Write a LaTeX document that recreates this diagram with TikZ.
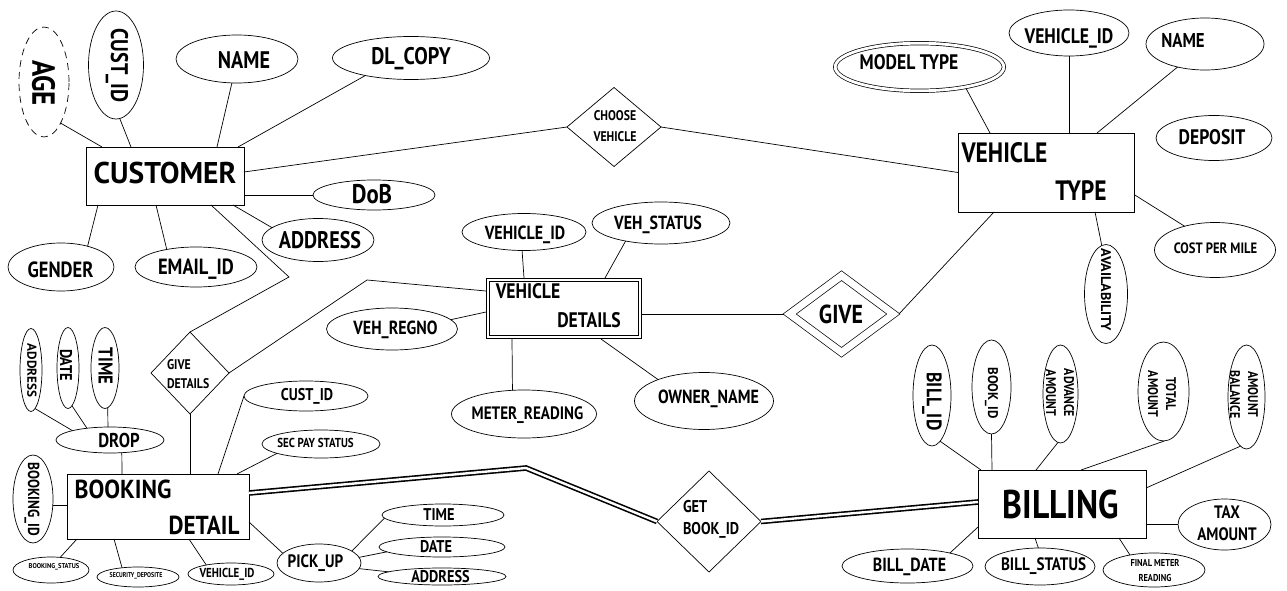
\documentclass[tikz,border=0pt]{standalone}
\usepackage{fontspec}
\usepackage{graphicx}
\setmainfont[FakeStretch=0.84]{PT Sans}
\usetikzlibrary{shapes.geometric,calc}
\newcommand{\fsz}[1]{\fontsize{#1}{#1}\selectfont\bfseries}
\newcommand{\fszl}[2]{\fontsize{#1}{#2}\selectfont\bfseries}
\begin{document}
\begin{tikzpicture}[x=1pt,y=-1pt,
  every node/.style={inner sep=0pt, outer sep=0pt},
  ent/.style={draw, rectangle, line width=0.8pt},
  dent/.style={draw, rectangle, line width=0.8pt, double, double distance=2.6pt, outer sep=2.1pt},
  attr/.style={draw, ellipse, line width=0.7pt},
  rel/.style={draw, diamond, line width=0.7pt},
  conn/.style={line width=0.7pt},
  dconn/.style={line width=1.6pt, double, double distance=2.4pt},
  txt/.style={inner sep=0pt, outer sep=0pt, text=black}
]
\fill[white] (0,0) rectangle (1287,591);
\useasboundingbox (0,0) rectangle (1287,591);

% ---------- entities ----------
\node[ent, minimum width=158, minimum height=58] (cust) at (165,176) {};
\node[txt, font=\fsz{30}] (t-cust) at (165,173) {\scalebox{1.17}[1]{CUSTOMER}};
\node[ent, minimum width=176, minimum height=79] (vt) at (1046,172.5) {};
\node[txt, font=\fsz{28}] (t-vt1) at (1004.5,153) {VEHICLE};
\node[txt, font=\fsz{28}] (t-vt2) at (1081,191) {TYPE};
\node[dent, minimum width=151.8, minimum height=56.8] (vd) at (564,308.5) {};
\node[txt, font=\fsz{21}] (t-vd1) at (528,291.5) {VEHICLE};
\node[txt, font=\fsz{21}] (t-vd2) at (589,320.5) {DETAILS};
\node[ent, minimum width=182, minimum height=65] (bd) at (158,506.5) {};
\node[txt, font=\fsz{26}] (t-bd1) at (123,489) {\scalebox{1.08}[1]{BOOKING}};
\node[txt, font=\fsz{26}] (t-bd2) at (204,525.5) {\scalebox{1.06}[1]{DETAIL}};
\node[ent, minimum width=168, minimum height=68] (bill) at (1062,504) {};
\node[txt, font=\fsz{40}] (t-bill) at (1061,504) {BILLING};

% ---------- relationships ----------
\node[rel, minimum width=94, minimum height=79] (choose) at (614,127) {};
\node[txt, font=\fszl{14}{21}, align=center] (t-choose) at (615,126) {CHOOSE\\VEHICLE};
\node[rel, minimum width=78, minimum height=82] (gd) at (190,373) {};
\node[txt, font=\fszl{14}{19}, align=left, anchor=west] (t-gd) at (167,374.5) {GIVE\\DETAILS};
\node[rel, double, double distance=7pt, outer sep=4pt, minimum width=107, minimum height=80] (give) at (841.5,314) {};
\node[txt, font=\fsz{26}] (t-give) at (841,314) {GIVE};
\node[rel, minimum width=104, minimum height=101] (get) at (709,521.5) {};
\node[txt, font=\fszl{17}{22}, align=left, anchor=west] (t-get) at (683,519) {GET\\BOOK\_ID};

% ---------- customer attributes ----------
\node[attr, dash pattern=on 7pt off 5pt, minimum width=50, minimum height=110] (age) at (44,82) {};
\node[txt, font=\fsz{32}, rotate=-90] (t-age) at (43.5,83) {AGE};
\node[attr, minimum width=55, minimum height=108] (cid) at (116,65) {};
\node[txt, font=\fsz{24}, rotate=-90] (t-cid) at (117,65.5) {CUST\_ID};
\node[attr, minimum width=122, minimum height=48] (cname) at (237,59) {};
\node[txt, font=\fsz{24}] (t-cname) at (244,60) {NAME};
\node[attr, minimum width=157, minimum height=43] (dl) at (411,58) {};
\node[txt, font=\fsz{24}] (t-dl) at (411,58.5) {DL\_COPY};
\node[attr, minimum width=122, minimum height=30] (dob) at (374,195) {};
\node[txt, font=\fsz{27}] (t-dob) at (372,194.5) {DoB};
\node[attr, minimum width=112, minimum height=43] (caddr) at (318,240) {};
\node[txt, font=\fsz{24}] (t-caddr) at (320,240.5) {ADDRESS};
\node[attr, minimum width=106, minimum height=48] (gender) at (61,267) {};
\node[txt, font=\fsz{22}] (t-gender) at (60.5,269.5) {GENDER};
\node[attr, minimum width=122, minimum height=40] (email) at (196,267) {};
\node[txt, font=\fsz{22}] (t-email) at (196,269) {EMAIL\_ID};

% ---------- vehicle type attributes ----------
\node[attr, double, double distance=2.8pt, outer sep=2.1pt, minimum width=168.6, minimum height=47.6] (model) at (919.5,67) {};
\node[txt, font=\fsz{21}] (t-model) at (909,62) {MODEL TYPE};
\node[attr, minimum width=120, minimum height=46] (vid) at (1069,33) {};
\node[txt, font=\fsz{21}] (t-vid) at (1069,38) {VEHICLE\_ID};
\node[attr, minimum width=118, minimum height=52] (vname) at (1205,44) {};
\node[txt, font=\fsz{20}] (t-vname) at (1183,41) {NAME};
\node[attr, minimum width=116, minimum height=45] (deposit) at (1214,138) {};
\node[txt, font=\fsz{21}] (t-deposit) at (1212,137.5) {DEPOSIT};
\node[attr, minimum width=121, minimum height=55] (cpm) at (1215,250) {};
\node[txt, font=\fsz{15}] (t-cpm) at (1215.5,248.5) {COST PER MILE};
\node[attr, minimum width=43, minimum height=99] (avail) at (1106,294) {};
\node[txt, font=\fsz{14}, rotate=-90] (t-avail) at (1106,290) {\scalebox{1.2}[1]{AVAILABILITY}};

% ---------- vehicle details attributes ----------
\node[attr, minimum width=124, minimum height=37] (vdid) at (524,232) {};
\node[txt, font=\fsz{19}] (t-vdid) at (525,234.5) {VEHICLE\_ID};
\node[attr, minimum width=138, minimum height=42] (vst) at (661,223) {};
\node[txt, font=\fsz{19}] (t-vst) at (658,224.5) {VEH\_STATUS};
\node[attr, minimum width=131, minimum height=42] (regno) at (392,329) {};
\node[txt, font=\fsz{19}] (t-regno) at (395.5,330) {VEH\_REGNO};
\node[attr, minimum width=145, minimum height=48] (meter) at (524,414) {};
\node[txt, font=\fsz{18}] (t-meter) at (527.5,415) {METER\_READING};
\node[attr, minimum width=139, minimum height=57] (owner) at (704,401) {};
\node[txt, font=\fsz{19}] (t-owner) at (708.5,399) {OWNER\_NAME};

% ---------- booking detail attributes ----------
\node[attr, minimum width=124, minimum height=30] (bcid) at (306,396) {};
\node[txt, font=\fsz{17}] (t-bcid) at (307,396.5) {CUST\_ID};
\node[attr, minimum width=118, minimum height=28] (sec) at (321,444) {};
\node[txt, font=\fsz{13}] (t-sec) at (315.5,443) {SEC PAY STATUS};
\node[attr, minimum width=108, minimum height=26] (drop) at (110,440) {};
\node[txt, font=\fsz{20}] (t-drop) at (119,440) {DROP};
\node[attr, minimum width=22, minimum height=83] (daddr) at (31,370) {};
\node[txt, font=\fsz{13}, rotate=-90] (t-daddr) at (32,370.5) {\scalebox{1.2}[1]{ADDRESS}};
\node[attr, minimum width=22, minimum height=81] (ddate) at (68,368) {};
\node[txt, font=\fsz{17}, rotate=-90] (t-ddate) at (66,365) {DATE};
\node[attr, minimum width=28, minimum height=81] (dtime) at (105,368) {};
\node[txt, font=\fsz{20}, rotate=-90] (t-dtime) at (105.5,366) {TIME};
\node[attr, minimum width=40, minimum height=88] (bid) at (33,499) {};
\node[txt, font=\fsz{16}, rotate=-90] (t-bid) at (32,499) {BOOKING\_ID};
\node[attr, minimum width=76, minimum height=26] (bstat) at (51,570) {};
\node[txt, font=\fsz{7}] (t-bstat) at (54,566.5) {\scalebox{1.1}[1]{BOOKING\_STATUS}};
\node[attr, minimum width=82, minimum height=20] (secdep) at (138,577) {};
\node[txt, font=\fsz{7}] (t-secdep) at (136,576) {SECURITY\_DEPOSITE};
\node[attr, minimum width=86, minimum height=22] (bvid) at (231,574) {};
\node[txt, font=\fsz{13}] (t-bvid) at (227,574) {VEHICLE\_ID};
\node[attr, minimum width=84, minimum height=38] (pick) at (319,563) {};
\node[txt, font=\fsz{18}] (t-pick) at (315.5,563) {PICK\_UP};
\node[attr, minimum width=122, minimum height=22] (ptime) at (443,515) {};
\node[txt, font=\fsz{17}] (t-ptime) at (439,514.5) {TIME};
\node[attr, minimum width=126, minimum height=20] (pdate) at (442,547) {};
\node[txt, font=\fsz{17}] (t-pdate) at (436,547) {DATE};
\node[attr, minimum width=128, minimum height=17] (paddr) at (442,576.5) {};
\node[txt, font=\fsz{17}] (t-paddr) at (440.5,577) {ADDRESS};

% ---------- billing attributes ----------
\node[attr, minimum width=38, minimum height=101] (billid) at (932,395.5) {};
\node[txt, font=\fsz{21}, rotate=-90] (t-billid) at (932,401.5) {BILL\_ID};
\node[attr, minimum width=39, minimum height=94] (bookid) at (991.5,387) {};
\node[txt, font=\fsz{14}, rotate=-90] (t-bookid) at (991.5,393) {\scalebox{1.1}[1]{BOOK\_ID}};
\node[attr, minimum width=35, minimum height=98] (adv) at (1060.5,394) {};
\node[txt, font=\fszl{14}{18}, align=center, rotate=-90] (t-adv) at (1060,393) {ADVANCE\\AMOUNT};
\node[attr, minimum width=51, minimum height=99] (tot) at (1163.5,391.5) {};
\node[txt, font=\fszl{14}{18}, align=center, rotate=-90] (t-tot) at (1162,394) {TOTAL\\AMOUNT};
\node[attr, minimum width=37, minimum height=104] (bal) at (1246.5,397) {};
\node[txt, font=\fszl{14}{18}, align=center, rotate=-90] (t-bal) at (1244,394.5) {AMOUNT\\BALANCE};
\node[attr, minimum width=93, minimum height=51] (tax) at (1224.5,524.5) {};
\node[txt, font=\fszl{18}{22}, align=center] (t-tax) at (1227,523.5) {TAX\\AMOUNT};
\node[attr, minimum width=131, minimum height=34] (bdate) at (907.5,566) {};
\node[txt, font=\fsz{19}] (t-bdate) at (909.5,566.5) {BILL\_DATE};
\node[attr, minimum width=110, minimum height=37] (bstatus) at (1040,566.5) {};
\node[txt, font=\fsz{18}] (t-bstatus) at (1043.5,566.5) {BILL\_STATUS};
\node[attr, minimum width=102, minimum height=34] (fmr) at (1154,570) {};
\node[txt, font=\fszl{10}{15}, align=center] (t-fmr) at (1155,570.5) {FINAL METER\\READING};

% ---------- connectors: customer ----------
\draw[conn] (age.-68) -- ([xshift=16pt]cust.north west);
\draw[conn] (cid.-86) -- ([xshift=45pt]cust.north west);
\draw[conn] (cname.-102) -- ([xshift=131pt]cust.north west);
\draw[conn] (dl.-159) -- ([xshift=-6pt]cust.north east);
\draw[conn] (dob.west) -- (dob.west -| cust.east);
\draw[conn] (caddr.165) -- ([xshift=-11pt]cust.south east);
\draw[conn] (gender.38) -- ([xshift=12pt]cust.south west);
\draw[conn] (email.149) -- ([xshift=70pt]cust.south west);
\draw[conn] ([yshift=4pt]cust.east) -- (choose.west);
\draw[conn] (choose.east) -- (vt.west);
\coordinate (b1) at (289,277);
\draw[conn] ([xshift=-33pt]cust.south east) -- (b1) -- (gd.north);
\coordinate (b2) at (367,280);
\draw[conn] (gd.east) -- (b2) -- ([yshift=17.5pt]vd.west);

% ---------- connectors: vehicle type ----------
\draw[conn] (model.-25) -- ([xshift=32pt]vt.north west);
\draw[conn] (vid.south) -- (vid.south |- vt.north);
\draw[conn] (vname.-140) -- ([xshift=139pt]vt.north west);
\draw[conn] (cpm.142) -- ([yshift=-22pt]vt.east);
\draw[conn] (avail.95) -- ([xshift=137pt]vt.south west);
\draw[conn] ([xshift=36pt]vt.south west) -- (give.east);

% ---------- connectors: vehicle details ----------
\draw[conn] (vdid.-96) -- ([xshift=38pt]vd.north west);
\draw[conn] (vst.-153) -- ([xshift=119pt]vd.north west);
\draw[conn] (regno.9) -- ([yshift=-3.5pt]vd.west);
\draw[conn] ([xshift=26pt]vd.south west) -- (meter.116);
\draw[conn] ([xshift=115pt]vd.south west) -- (owner.155);
\draw[conn] (give.west) -- (give.west -| vd.east);

% ---------- connectors: booking detail ----------
\draw[conn] (gd.south) -- (gd.south |- bd.north);
\draw[conn] (bcid.west) -- ([xshift=151pt]bd.north west);
\draw[conn] (sec.-168) -- ([xshift=170pt]bd.north west);
\draw[conn] (drop.-47) -- ([xshift=55pt]bd.north west);
\draw[conn] (daddr.-84) -- (drop.166);
\draw[conn] (ddate.-84) -- (drop.153);
\draw[conn] (dtime.-86) -- (drop.99);
\draw[conn] ([yshift=-6pt]bid.east) -- ([yshift=-6pt]bid.east -| bd.west);
\draw[conn] (bstat.54) -- ([xshift=10pt]bd.south west);
\draw[conn] (secdep.150) -- ([xshift=47pt]bd.south west);
\draw[conn] (bvid.160) -- ([xshift=122pt]bd.south west);
\draw[conn] (pick.165) -- ([yshift=-15.5pt]bd.east);
\draw[conn] (pick.20) -- (ptime.-177);
\draw[conn] (pick.8) -- (pdate.-175);
\draw[conn] (pick.-8) -- (paddr.175);

% ---------- double connectors ----------
\coordinate (b3) at (526,468);
\draw[dconn] ([yshift=13.5pt]bd.east) -- (b3) -- (get.west);
\draw[dconn] (get.east) -- ([yshift=2pt]bill.west);

% ---------- connectors: billing ----------
\draw[conn] (billid.-80) -- ([xshift=3pt]bill.north west);
\draw[conn] (bookid.-90) -- ([xshift=14pt]bill.north west);
\draw[conn] (adv.-93) -- ([xshift=58pt]bill.north west);
\draw[conn] (tot.-89) -- ([xshift=103pt]bill.north west);
\draw[conn] (bal.-97) -- ([yshift=-18pt]bill.north east);
\draw[conn] (tax.west) -- (tax.west -| bill.east);
\draw[conn] (bdate.17) -- ([yshift=-23pt]bill.west);
\draw[conn] (bstatus.95) -- ([xshift=57pt]bill.south west);
\draw[conn] (fmr.148) -- ([xshift=141pt]bill.south west);
\end{tikzpicture}
\end{document}
